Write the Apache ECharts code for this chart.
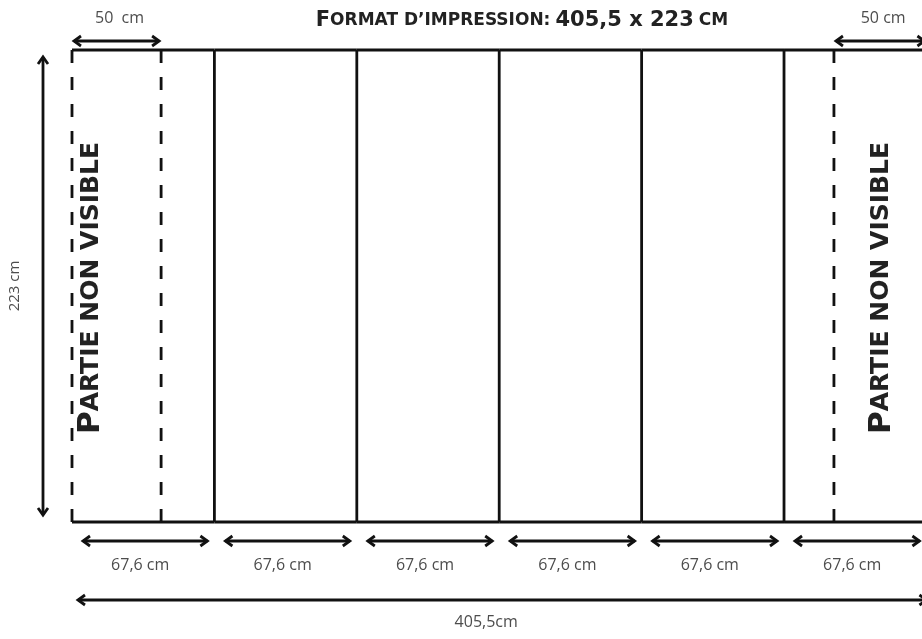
<!DOCTYPE html>
<html>
<head>
<meta charset="utf-8">
<script src="https://cdn.jsdelivr.net/npm/echarts@6/dist/echarts.min.js"></script>
<style>html,body{margin:0;padding:0;background:#fff}#chart{width:922px;height:639px}</style>
</head>
<body>
<div id="chart"></div>
<script>
// dimensions du format (cm)
var panelWidths = [67.6, 67.6, 67.6, 67.6, 67.6, 67.6];
var panelLabels = ['67,6 cm', '67,6 cm', '67,6 cm', '67,6 cm', '67,6 cm', '67,6 cm'];
var printHeight = 223;
var visibleWidth = 403.5; // partie du format visible dans l'image (le bord droit est coupe)
// zones non visibles (bords pointilles, position)
var hiddenZones = [[0, 42.3], [361.7, 405.6]];
var hiddenEdges = [0, 42.3, 361.7];
var marginLabels = ['50  cm', '50 cm'];
var totalLabel = '405,5cm';
var heightLabel = '223 cm';

// bords des lés
var panels = [];
var acc = 0;
panelWidths.forEach(function (w, i) {
    panels.push([acc, acc + w, i]);
    acc += w;
});
var totalWidth = acc;

var myChart = echarts.init(document.getElementById('chart'));

var INK = '#111';
var GREY = '#4d4d4d';
var FONT = '"Open Sans", "Noto Sans", sans-serif';
var BOLD = '"DejaVu Sans", "Open Sans", sans-serif';

function seg(x1, y1, x2, y2, w, dash) {
    return {
        type: 'line',
        shape: {x1: x1, y1: y1, x2: x2, y2: y2},
        style: {stroke: INK, lineWidth: w || 2.8, lineDash: dash || null}
    };
}

// fleche double (chevrons ouverts)
function arrow(x1, y1, x2, y2) {
    var dx = x2 - x1, dy = y2 - y1;
    var len = Math.sqrt(dx * dx + dy * dy);
    var ux = dx / len, uy = dy / len;
    var px = -uy, py = ux;
    var a = 7, b = 5;
    function head(tx, ty, sx, sy) {
        return {
            type: 'polyline',
            shape: {points: [
                [tx + sx * a + px * b, ty + sy * a + py * b],
                [tx, ty],
                [tx + sx * a - px * b, ty + sy * a - py * b]
            ]},
            style: {stroke: INK, lineWidth: 2.8, fill: null}
        };
    }
    return [
        seg(x1, y1, x2, y2, 2.8),
        head(x1, y1, ux, uy),
        head(x2, y2, -ux, -uy)
    ];
}

function label(x, y, text, size, rot) {
    return {
        type: 'text',
        x: x, y: y,
        rotation: rot || 0,
        style: {
            text: text, fill: GREY, font: (size || 16) + 'px ' + FONT,
            align: 'center', verticalAlign: 'middle'
        }
    };
}

myChart.setOption({
    animation: false,
    title: {
        text: '{c|F}{s|ORMAT D\u2019IMPRESSION:} {c|405,5 x 223} {s|CM}',
        left: 517,
        top: 5,
        textAlign: 'center',
        textStyle: {
            rich: {
                c: {fontSize: 21, fontWeight: 'bold', color: '#222', fontFamily: BOLD},
                s: {fontSize: 17, fontWeight: 'bold', color: '#222', fontFamily: BOLD}
            }
        }
    },
    grid: {left: 72, top: 50, right: 0, bottom: 117},
    xAxis: {type: 'value', min: 0, max: visibleWidth, show: false},
    yAxis: {type: 'value', min: 0, max: printHeight, show: false},
    series: [
        {
            // cadre et separations des les
            type: 'custom',
            name: 'les',
            data: panels,
            encode: {x: [0, 1]},
            renderItem: function (params, api) {
                var s = api.value(0), e = api.value(1), i = api.value(2);
                var tl = api.coord([s, printHeight]);
                var br = api.coord([e, 0]);
                var ch = [
                    seg(tl[0], tl[1], br[0], tl[1]),
                    seg(tl[0], br[1], br[0], br[1])
                ];
                if (i > 0) ch.push(seg(tl[0], tl[1], tl[0], br[1]));
                // fleche + cote sous chaque le
                ch = ch.concat(arrow(tl[0] + 11, br[1] + 19, br[0] - 7, br[1] + 19));
                ch.push(label((tl[0] + br[0]) / 2 - 3, br[1] + 43, panelLabels[i]));
                return {type: 'group', children: ch};
            }
        },
        {
            // bords pointilles
            type: 'custom',
            name: 'pointilles',
            data: hiddenEdges.map(function (x) { return [x]; }),
            encode: {x: 0},
            renderItem: function (params, api) {
                var t = api.coord([api.value(0), printHeight]);
                var b = api.coord([api.value(0), 0]);
                return seg(t[0], t[1], b[0], b[1], 2.8, [13, 14]);
            }
        },
        {
            // zones non visibles : texte + cote 50 cm
            type: 'custom',
            name: 'zones',
            data: hiddenZones.map(function (z, i) { return [z[0], z[1], i]; }),
            encode: {x: [0, 1]},
            renderItem: function (params, api) {
                var i = api.value(2);
                var l = api.coord([api.value(0), printHeight]);
                var r = api.coord([api.value(1), 0]);
                var textDx = [19, 48];
                var ch = arrow(l[0] + 2, l[1] - 9, r[0] - 2, l[1] - 9);
                ch.push(label((l[0] + r[0]) / 2 + 3, l[1] - 32, marginLabels[i]));
                ch.push({
                    type: 'text',
                    x: l[0] + textDx[i],
                    y: (l[1] + r[1]) / 2 + 2,
                    rotation: Math.PI / 2,
                    style: {
                        text: '{c|P}{s|ARTIE NON VISIBLE}',
                        align: 'center', verticalAlign: 'middle',
                        rich: {
                            c: {fontSize: 31, fontWeight: 'bold', fill: '#222', fontFamily: BOLD},
                            s: {fontSize: 25, fontWeight: 'bold', fill: '#222', fontFamily: BOLD}
                        }
                    }
                });
                return {type: 'group', children: ch};
            }
        },
        {
            // cotes totales : largeur et hauteur
            type: 'custom',
            name: 'cotes',
            data: [[0, totalWidth, printHeight]],
            encode: {x: [0, 1], y: 2},
            renderItem: function (params, api) {
                var tl = api.coord([api.value(0), api.value(2)]);
                var br = api.coord([api.value(1), 0]);
                var ch = arrow(tl[0] + 6, br[1] + 78, br[0], br[1] + 78);
                ch.push(label((tl[0] + br[0]) / 2 - 13, br[1] + 100, totalLabel));
                ch = ch.concat(arrow(tl[0] - 29, tl[1] + 7, tl[0] - 29, br[1] - 7));
                ch.push(label(tl[0] - 57, (tl[1] + br[1]) / 2, heightLabel, 15, Math.PI / 2));
                return {type: 'group', children: ch};
            }
        }
    ]
});
</script>
</body>
</html>
